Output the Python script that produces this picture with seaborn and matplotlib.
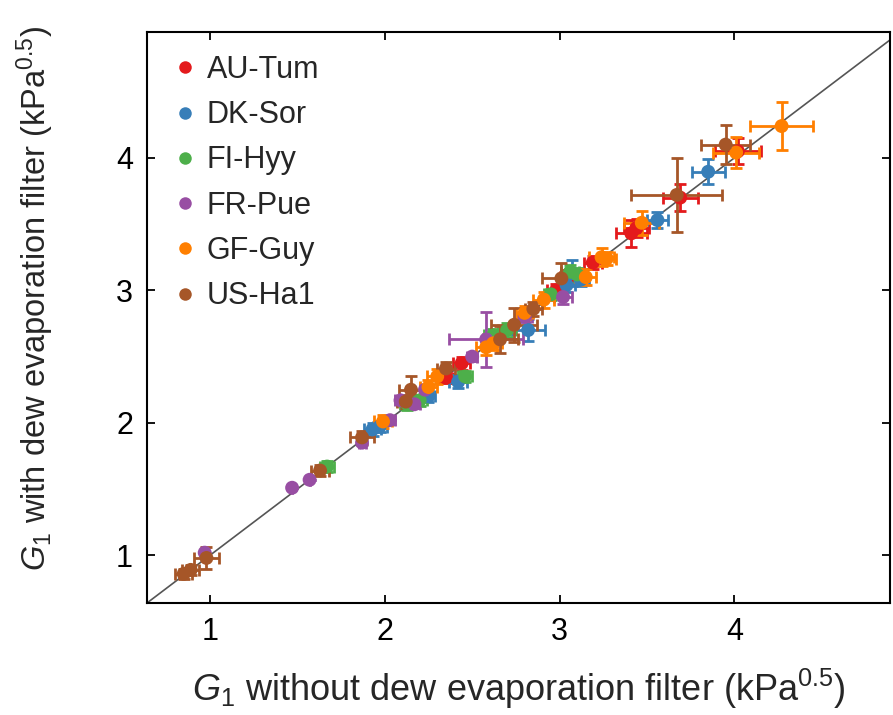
import numpy as np
import pandas as pd
import matplotlib
matplotlib.use("Agg")
import matplotlib.pyplot as plt
import seaborn as sns

sites = ["AU-Tum", "DK-Sor", "FI-Hyy", "FR-Pue", "GF-Guy", "US-Ha1"]
colors = ["#e41a1c", "#377eb8", "#4daf4a", "#984ea3", "#ff7f00", "#a65628"]

# (x, y, xerr, yerr) per site
au_x = [4.02, 3.69, 3.41, 3.44, 3.19, 2.44, 2.35, 2.98, 3.05]
au_y = [4.05, 3.70, 3.43, 3.47, 3.21, 2.45, 2.34, 3.00, 3.10]
au_xe = [0.13, 0.10, 0.09, 0.07, 0.05, 0.05, 0.04, 0.05, 0.05]
au_ye = [0.10, 0.10, 0.10, 0.07, 0.05, 0.05, 0.04, 0.05, 0.05]

dk_x = [3.85, 3.56, 3.07, 3.04, 2.82, 2.42, 1.93, 2.25, 3.12, 1.97]
dk_y = [3.895, 3.53, 3.13, 3.04, 2.70, 2.31, 1.95, 2.20, 3.08, 1.97]
dk_xe = [0.095, 0.06, 0.06, 0.05, 0.095, 0.05, 0.05, 0.04, 0.05, 0.04]
dk_ye = [0.095, 0.06, 0.10, 0.05, 0.08, 0.05, 0.05, 0.04, 0.05, 0.04]

fi_x = [3.06, 2.70, 2.62, 2.46, 2.20, 1.67, 2.95, 3.10, 2.13]
fi_y = [3.14, 2.70, 2.66, 2.35, 2.17, 1.67, 2.97, 3.12, 2.14]
fi_xe = [0.05, 0.05, 0.05, 0.04, 0.04, 0.04, 0.04, 0.05, 0.04]
fi_ye = [0.05, 0.05, 0.05, 0.04, 0.04, 0.04, 0.04, 0.05, 0.04]

fr_x = [3.02, 2.80, 2.58, 2.50, 2.23, 2.09, 2.03, 1.87, 1.57, 1.47, 0.97, 2.17]
fr_y = [2.95, 2.80, 2.63, 2.50, 2.25, 2.17, 2.02, 1.85, 1.57, 1.51, 1.02, 2.14]
fr_xe = [0.05, 0.04, 0.21, 0.03, 0.03, 0.03, 0.03, 0.02, 0.0, 0.0, 0.0, 0.03]
fr_ye = [0.05, 0.04, 0.21, 0.03, 0.03, 0.03, 0.03, 0.02, 0.0, 0.0, 0.0, 0.03]

gf_x = [4.27, 4.01, 3.47, 3.24, 3.27, 3.15, 2.91, 2.58, 2.30, 2.25, 1.99, 2.62, 2.80]
gf_y = [4.24, 4.04, 3.51, 3.25, 3.24, 3.10, 2.93, 2.57, 2.35, 2.27, 2.01, 2.60, 2.83]
gf_xe = [0.18, 0.13, 0.10, 0.07, 0.05, 0.06, 0.06, 0.06, 0.06, 0.05, 0.05, 0.05, 0.05]
gf_ye = [0.18, 0.12, 0.09, 0.07, 0.05, 0.06, 0.06, 0.06, 0.06, 0.05, 0.05, 0.05, 0.05]

us_x = [3.95, 3.67, 3.01, 2.85, 2.74, 2.66, 2.35, 2.15, 2.12, 1.87, 1.63, 0.98, 0.89, 0.85]
us_y = [4.10, 3.72, 3.09, 2.86, 2.74, 2.63, 2.41, 2.25, 2.16, 1.89, 1.64, 0.98, 0.89, 0.86]
us_xe = [0.14, 0.26, 0.11, 0.05, 0.13, 0.10, 0.05, 0.07, 0.05, 0.07, 0.05, 0.07, 0.05, 0.05]
us_ye = [0.15, 0.28, 0.12, 0.05, 0.13, 0.10, 0.05, 0.10, 0.05, 0.05, 0.04, 0.08, 0.04, 0.04]

xticks = [1, 2, 3, 4]
yticks = [1, 2, 3, 4]

series = [
    (au_x, au_y, au_xe, au_ye),
    (dk_x, dk_y, dk_xe, dk_ye),
    (fi_x, fi_y, fi_xe, fi_ye),
    (fr_x, fr_y, fr_xe, fr_ye),
    (gf_x, gf_y, gf_xe, gf_ye),
    (us_x, us_y, us_xe, us_ye),
]

rows = []
for s, (xs, ys, xes, yes) in zip(sites, series):
    for x, y, xe, ye in zip(xs, ys, xes, yes):
        rows.append(dict(site=s, x=x, y=y, xe=xe, ye=ye))
df = pd.DataFrame(rows)

sns.set_style("ticks")
plt.rcParams['font.family'] = ['Liberation Sans', 'DejaVu Sans']
plt.rcParams['mathtext.fontset'] = 'custom'
plt.rcParams['mathtext.rm'] = 'Liberation Sans'
plt.rcParams['mathtext.it'] = 'Liberation Sans:italic'

fig = plt.figure(figsize=(8.93, 7.15), dpi=100)
ax = fig.add_axes([147/893, 1-603/715, (890-147)/893, (603-32)/715])

xlim = (0.64, 4.89)
ylim = (0.64, 4.95)
ax.set_xlim(*xlim)
ax.set_ylim(*ylim)

ax.plot([0.64, 4.95], [0.64, 4.95], color="#555555", lw=1.2, zorder=1)

pal = dict(zip(sites, colors))
for s in sites:
    d = df[df.site == s]
    ax.errorbar(d.x, d.y, xerr=d.xe, yerr=d.ye, fmt="none", ecolor=pal[s],
                elinewidth=2.0, capsize=4, capthick=2.0, zorder=2)

sns.scatterplot(data=df, x="x", y="y", hue="site", hue_order=sites, palette=pal,
                s=100, edgecolor="none", ax=ax, zorder=3, legend=True)

ax.set_xticks(xticks)
ax.set_yticks(yticks)
ax.tick_params(direction="in", length=6, width=1.3, labelsize=22, pad=10,
               top=True, right=True, colors="black")
for sp in ax.spines.values():
    sp.set_visible(True)
    sp.set_linewidth(1.5)
    sp.set_color("black")

ax.set_xlabel(r"$G_1$ without dew evaporation filter (kPa$^{0.5}$)", fontsize=26, labelpad=14)
ax.set_ylabel(r"$G_1$ with dew evaporation filter (kPa$^{0.5}$)", fontsize=23.5)
ax.yaxis.set_label_coords(-0.122, 0.534)

leg = ax.legend(loc="upper left", bbox_to_anchor=(0.0, 1.0), frameon=False, fontsize=22,
                handletextpad=0.2, labelspacing=0.5, borderaxespad=0.35, borderpad=0.4,
                handlelength=1.0, title=None, markerscale=0.9)

fig.savefig("out.png", dpi=100)
